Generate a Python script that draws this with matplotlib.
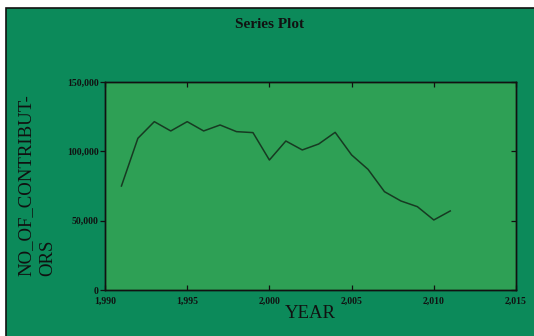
import matplotlib
matplotlib.use("Agg")
import matplotlib.pyplot as plt
from matplotlib.patches import Rectangle
from matplotlib.ticker import FuncFormatter

years = [1991, 1992, 1993, 1994, 1995, 1996, 1997, 1998, 1999, 2000, 2001,
         2002, 2003, 2004, 2005, 2006, 2007, 2008, 2009, 2010, 2011]
contributors = [75000, 109400, 121400, 114700, 121400, 114700, 119000, 114200,
                113500, 93750, 107450, 101000, 105300, 113700, 97400, 87000,
                70900, 64200, 60100, 50500, 57000]
x_ticks = [1990, 1995, 2000, 2005, 2010, 2015]
y_ticks = [0, 50000, 100000, 150000]

W, H = 534, 336
outer = "#0c8a5a"
inner = "#2ea055"

fig = plt.figure(figsize=(W / 100, H / 100), dpi=100, facecolor="white")
fig.add_artist(Rectangle((6 / W, -0.02), 1.0, (H - 8) / H + 0.02,
                         transform=fig.transFigure, facecolor=outer,
                         edgecolor="#111111", linewidth=1.2, zorder=0))

ax = fig.add_axes([105 / W, 1 - 290 / H, (516 - 105) / W, (290 - 82) / H])
ax.set_facecolor(inner)
ax.plot(years, contributors, color="#173a22", linewidth=1.1)
ax.set_xlim(1990, 2015)
ax.set_ylim(0, 150000)

ax.set_xticks(x_ticks)
ax.set_yticks(y_ticks)
fmt = FuncFormatter(lambda v, p: f"{int(v):,}")
ax.xaxis.set_major_formatter(fmt)
ax.yaxis.set_major_formatter(fmt)

for lab in ax.get_xticklabels() + ax.get_yticklabels():
    lab.set_fontfamily("Liberation Serif")
    lab.set_fontweight("bold")
    lab.set_fontsize(7)

ax.tick_params(axis="x", direction="in", length=3.5, width=0.9, pad=5,
               top=True, colors="#111111")
ax.tick_params(axis="y", direction="out", length=3.5, width=0.9, pad=1,
               colors="#111111")
ax.tick_params(axis="y", which="both", right=False)
ax2 = ax.twinx()
ax2.set_ylim(0, 150000)
ax2.set_yticks(y_ticks)
ax2.set_yticklabels([])
ax2.tick_params(axis="y", direction="in", length=3.5, width=0.9, colors="#111111")

for a in (ax, ax2):
    for s in a.spines.values():
        s.set_color("#111111")
        s.set_linewidth(1.0)

fig.text(270 / W, 1 - 25 / H, "Series Plot", ha="center", va="center",
         family="Liberation Serif", weight="bold", size=11, color="#111111")
fig.text(310 / W, 1 - 313 / H, "YEAR", ha="center", va="center",
         family="Liberation Serif", size=13.5, color="#111111")
fig.text(37 / W, 1 - 185 / H, "NO_OF_CONTRIBUT-\nORS", ha="center", va="center",
         rotation=90, multialignment="left", linespacing=1.3,
         family="Liberation Serif", size=13.5, color="#111111")

fig.savefig("out.png", dpi=100, facecolor="white")
